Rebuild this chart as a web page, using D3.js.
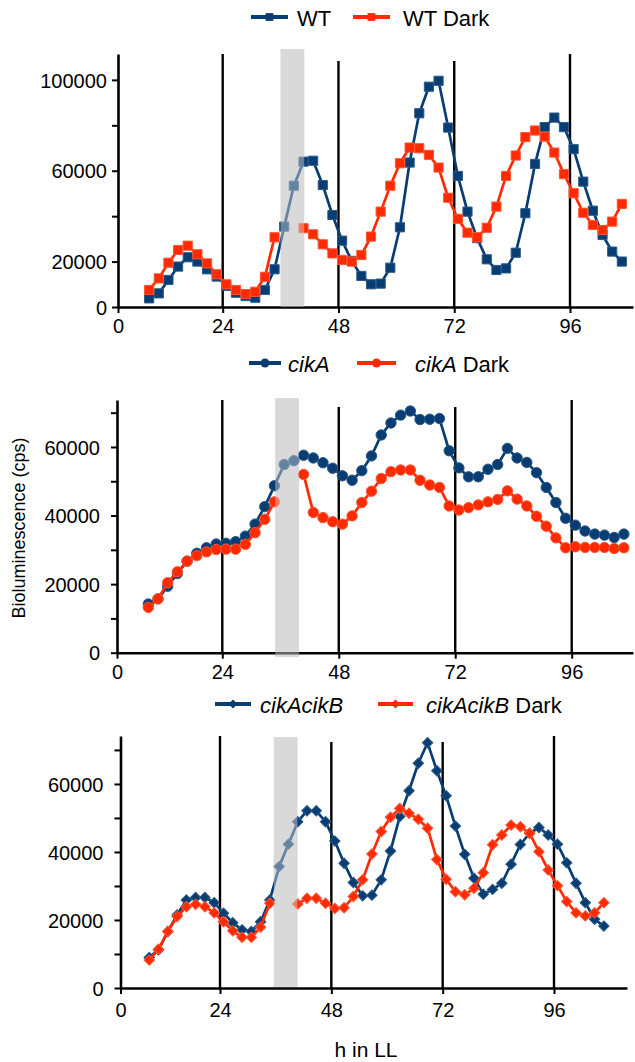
<!DOCTYPE html>
<html>
<head>
<meta charset="utf-8">
<script src="https://cdn.jsdelivr.net/npm/d3@7"></script>
<style>
  body { margin: 0; background: #fff; }
  svg { display: block; font-family: Arial, "Liberation Sans", sans-serif; }
</style>
</head>
<body>
<svg id="chart" width="635" height="1062"></svg>
<script>
// sampling times (h in LL), shared by all six series
var hours = [8.75, 10.75, 12.75, 14.75, 16.75, 18.75, 20.75, 22.75, 24.75, 26.75,
             28.75, 30.75, 32.75, 34.75, 36.75, 38.75, 40.75, 42.75, 44.75, 46.75,
             48.75, 50.75, 52.75, 54.75, 56.75, 58.75, 60.75, 62.75, 64.75, 66.75,
             68.75, 70.75, 72.75, 74.75, 76.75, 78.75, 80.75, 82.75, 84.75, 86.75,
             88.75, 90.75, 92.75, 94.75, 96.75, 98.75, 100.75, 102.75, 104.75, 106.75];

var wt = [3800, 6000, 11900, 17800, 21900, 20000, 16600, 13400, 9300, 6300,
          4800, 4100, 7500, 16600, 35400, 53400, 64000, 64400, 53700, 40500,
          29200, 20300, 13700, 10000, 10300, 17300, 35100, 63600, 85300, 97000,
          99600, 79000, 57700, 42000, 30300, 21000, 16300, 17000, 23900, 41300,
          63000, 79200, 83400, 79200, 69500, 55200, 42400, 31700, 24400, 20000];
var wtDark = [7500, 12600, 19500, 25100, 27000, 23200, 19200, 14400, 10000, 7500,
          5700, 6700, 13300, 30700, null, null, 34700, 32000, 27600, 23600,
          20700, 20000, 22900, 31000, 42000, 53400, 63300, 70200, 69900, 67000,
          61400, 48100, 38800, 32700, 30700, 34900, 44200, 57700, 66700, 74800,
          77700, 75000, 68000, 58500, 50100, 41500, 36100, 33900, 37600, 45400];

var cikA = [14200, 15700, 19400, 23100, 26700, 29000, 30600, 31700, 31900, 32400,
          34000, 37500, 42600, 48700, 54900, 56000, 57600, 56800, 55400, 53800,
          51600, 50300, 53100, 57400, 63500, 67000, 69300, 70500, 68000, 68100,
          68300, 58900, 53900, 51300, 51300, 53500, 54900, 59600, 56800, 55500,
          52500, 48200, 43800, 39200, 37200, 35500, 34600, 34300, 33600, 34600];
var cikADark = [13200, 15700, 20400, 23600, 26700, 28300, 29400, 30100, 30200, 30200,
          31600, 35000, 38900, 44000, null, null, 52000, 40900, 39400, 38200,
          37500, 39900, 43800, 47100, 50800, 52800, 53300, 53300, 50300, 48900,
          48200, 42800, 41600, 42300, 43100, 44000, 44700, 47200, 44800, 42800,
          39800, 36900, 33500, 30600, 30900, 30700, 30700, 30700, 30400, 30600];

var cikAcikB = [9000, 11200, 16600, 21500, 25900, 26600, 26600, 25100, 22000, 19200,
          17100, 16600, 19500, 25900, 35700, 42300, 48900, 52100, 52100, 48900,
          43200, 36700, 31000, 27100, 27300, 31800, 40300, 50400, 58000, 66100,
          72100, 63900, 56500, 47600, 39300, 32300, 27600, 29000, 30800, 36400,
          42200, 45500, 47200, 45000, 42300, 36800, 30800, 25100, 20200, 18200];
var cikAcikBDark = [8200, 11400, 16600, 21000, 23900, 24600, 23900, 22100, 19500, 16800,
          14900, 14900, 17900, 24900, null, null, 24700, 26400, 26400, 24900,
          23400, 23600, 26900, 31800, 39400, 46000, 50200, 52800, 51400, 49600,
          47000, 37800, 32000, 28300, 27400, 29300, 33900, 42100, 45000, 47900,
          47400, 45500, 40100, 34700, 30100, 25400, 22100, 21200, 22100, 25100];

// subjective dawn marks and the dark pulse (h)
var dayMarks = [24, 48, 72, 96];
var xTicks = [24, 48, 72, 96];
var pulseWT = [36, 40.9], pulseCikA = [34.9, 39.8], pulseCikAB = [35.6, 40.7];

var yTicksWT = [0, 20000, 40000, 60000, 80000, 100000];
var yLabelsWT = [0, 20000, 60000, 100000];
var yTicksCik = [0, 10000, 20000, 30000, 40000, 50000, 60000, 70000];
var yLabelsCik = [0, 20000, 40000, 60000];

// legend names: [text, italic]
var namesWT = [[["WT", false]], [["WT Dark", false]]];
var namesCikA = [[["cikA", true]], [["cikA", true], [" Dark", false]]];
var namesCikAB = [[["cikAcikB", true]], [["cikAcikB", true], [" Dark", false]]];

var blue = "#073d72", red = "#ff2a00";
var blueEdge = "#2b5a88", redEdge = "#ff5533";

var svg = d3.select("#chart");

//panel layouts
var panels = [
  { series: [wt, wtDark], names: namesWT, pulse: pulseWT, marker: "square",
    yTicks: yTicksWT, yLabels: yLabelsWT, yMax: 111400,
    top: 54, base: 307, left: 118, right: 633, x24: 222.7, x96: 570,
    markTops: [54, 61, 61, 54], band: [49, 307], yPad: 5, xPad: 6,
    legendY: 17, legend: [[251, 288, 297], [353, 390, 403]] },
  { series: [cikA, cikADark], names: namesCikA, pulse: pulseCikA, marker: "circle",
    yTicks: yTicksCik, yLabels: yLabelsCik, yMax: 73700,
    top: 400, base: 652.7, left: 117, right: 633, x24: 222.3, x96: 571.7,
    markTops: [400, 407, 407, 400], band: [398, 657], yPad: 11, xPad: 6,
    legendY: 363, legend: [[249, 281, 288], [357, 396, 415]] },
  { series: [cikAcikB, cikAcikBDark], names: namesCikAB, pulse: pulseCikAB, marker: "diamond",
    yTicks: yTicksCik, yLabels: yLabelsCik, yMax: 74100,
    top: 736, base: 988, left: 120.5, right: 627, x24: 220, x96: 554,
    markTops: [736, 742, 742, 736], band: [737, 987], yPad: 11, xPad: 9,
    legendY: 704, legend: [[215, 251, 260], [378, 413, 426]] }
];

function symbolPath(kind) {
  if (kind === "circle") return d3.symbol().type(d3.symbolCircle).size(85)();
  if (kind === "diamond") return d3.symbol().type(d3.symbolSquare).size(55)();
  return d3.symbol().type(d3.symbolSquare).size(84)();
}
function symbolRot(kind) { return kind === "diamond" ? " rotate(45)" : ""; }

panels.forEach(function(p) {
  var k = (p.x96 - p.x24) / 72,
      t0 = 24 - (p.x24 - p.left) / k,
      t1 = 24 + (p.right - p.x24) / k;

  var x = d3.scaleLinear().domain([t0, t1]).range([p.left, p.right]);
  var y = d3.scaleLinear().domain([0, p.yMax]).range([p.base, p.top]);

  var g = svg.append("g");

  // dark pulse band (behind)
  g.append("rect")
    .attr("x", x(p.pulse[0])).attr("width", x(p.pulse[1]) - x(p.pulse[0]))
    .attr("y", p.band[0]).attr("height", p.band[1] - p.band[0])
    .attr("fill", "#d9d9d9");

  // vertical day lines
  g.selectAll(".mark").data(dayMarks).enter().append("line")
    .attr("x1", function(d) { return x(d); })
    .attr("x2", function(d) { return x(d); })
    .attr("y1", function(d, i) { return p.markTops[i]; })
    .attr("y2", p.base)
    .attr("stroke", "#000").attr("stroke-width", 2.4);

  // axes
  var yAxis = d3.axisLeft(y).tickValues(p.yTicks).tickSize(6).tickSizeOuter(0)
    .tickPadding(p.yPad)
    .tickFormat(function(d) { return p.yLabels.indexOf(d) >= 0 ? d : ""; });
  var ya = g.append("g").attr("transform", "translate(" + p.left + ",0)").call(yAxis);

  var xAxis = d3.axisBottom(x).tickValues([t0].concat(xTicks)).tickSize(6).tickSizeOuter(0)
    .tickPadding(p.xPad)
    .tickFormat(function(d) { return d === t0 ? "0" : d; });
  var xa = g.append("g").attr("transform", "translate(0," + p.base + ")").call(xAxis);

  [ya, xa].forEach(function(a) {
    a.select(".domain").attr("stroke", "#000").attr("stroke-width", 2.6);
    a.selectAll(".tick line").attr("stroke", "#000").attr("stroke-width", 2);
    a.selectAll(".tick text").attr("fill", "#000")
      .style("font-size", "20px").style("font-family", 'Arial, "Liberation Sans", sans-serif');
  });
  ya.selectAll(".tick text").attr("dy", "0.36em");

  // series
  var colors = [blue, red], edges = [blueEdge, redEdge];
  p.series.forEach(function(vals, si) {
    var pts = hours.map(function(h, i) { return { t: h, v: vals[i] }; });

    var line = d3.line()
      .defined(function(d) { return d.v != null; })
      .x(function(d) { return x(d.t); })
      .y(function(d) { return y(d.v); });

    g.append("path").datum(pts)
      .attr("d", line).attr("fill", "none")
      .attr("stroke", colors[si]).attr("stroke-width", 2.7)
      .attr("stroke-linejoin", "round");

    g.selectAll(".m" + si).data(pts.filter(function(d) { return d.v != null; }))
      .enter().append("path")
      .attr("d", symbolPath(p.marker))
      .attr("transform", function(d) { return "translate(" + x(d.t) + "," + y(d.v) + ")" + symbolRot(p.marker); })
      .attr("fill", colors[si]).attr("stroke", edges[si]).attr("stroke-width", 1);
  });

  // band veil over the data so the points inside look faded
  g.append("rect")
    .attr("x", x(p.pulse[0])).attr("width", x(p.pulse[1]) - x(p.pulse[0]))
    .attr("y", p.band[0]).attr("height", p.band[1] - p.band[0])
    .attr("fill", "#d9d9d9").attr("opacity", 0.45);

  // legend
  p.legend.forEach(function(L, si) {
    var lg = svg.append("g");
    lg.append("line")
      .attr("x1", L[0]).attr("x2", L[1]).attr("y1", p.legendY).attr("y2", p.legendY)
      .attr("stroke", colors[si]).attr("stroke-width", 4);
    lg.append("path")
      .attr("d", symbolPath(p.marker))
      .attr("transform", "translate(" + (L[0] + L[1]) / 2 + "," + p.legendY + ")" + symbolRot(p.marker) + " scale(0.85)")
      .attr("fill", colors[si]);
    var tx = lg.append("text").attr("x", L[2]).attr("y", p.legendY + 8.5)
      .style("font-size", "22px").attr("fill", "#000");
    p.names[si].forEach(function(part) {
      tx.append("tspan").text(part[0]).style("font-style", part[1] ? "italic" : "normal");
    });
  });
});

// axis titles
svg.append("text")
  .attr("transform", "translate(25,528) rotate(-90)")
  .attr("text-anchor", "middle")
  .style("font-size", "18px")
  .text("Bioluminescence (cps)");

svg.append("text")
  .attr("x", 366).attr("y", 1057)
  .attr("text-anchor", "middle")
  .style("font-size", "21px")
  .text("h in LL");
</script>
</body>
</html>
